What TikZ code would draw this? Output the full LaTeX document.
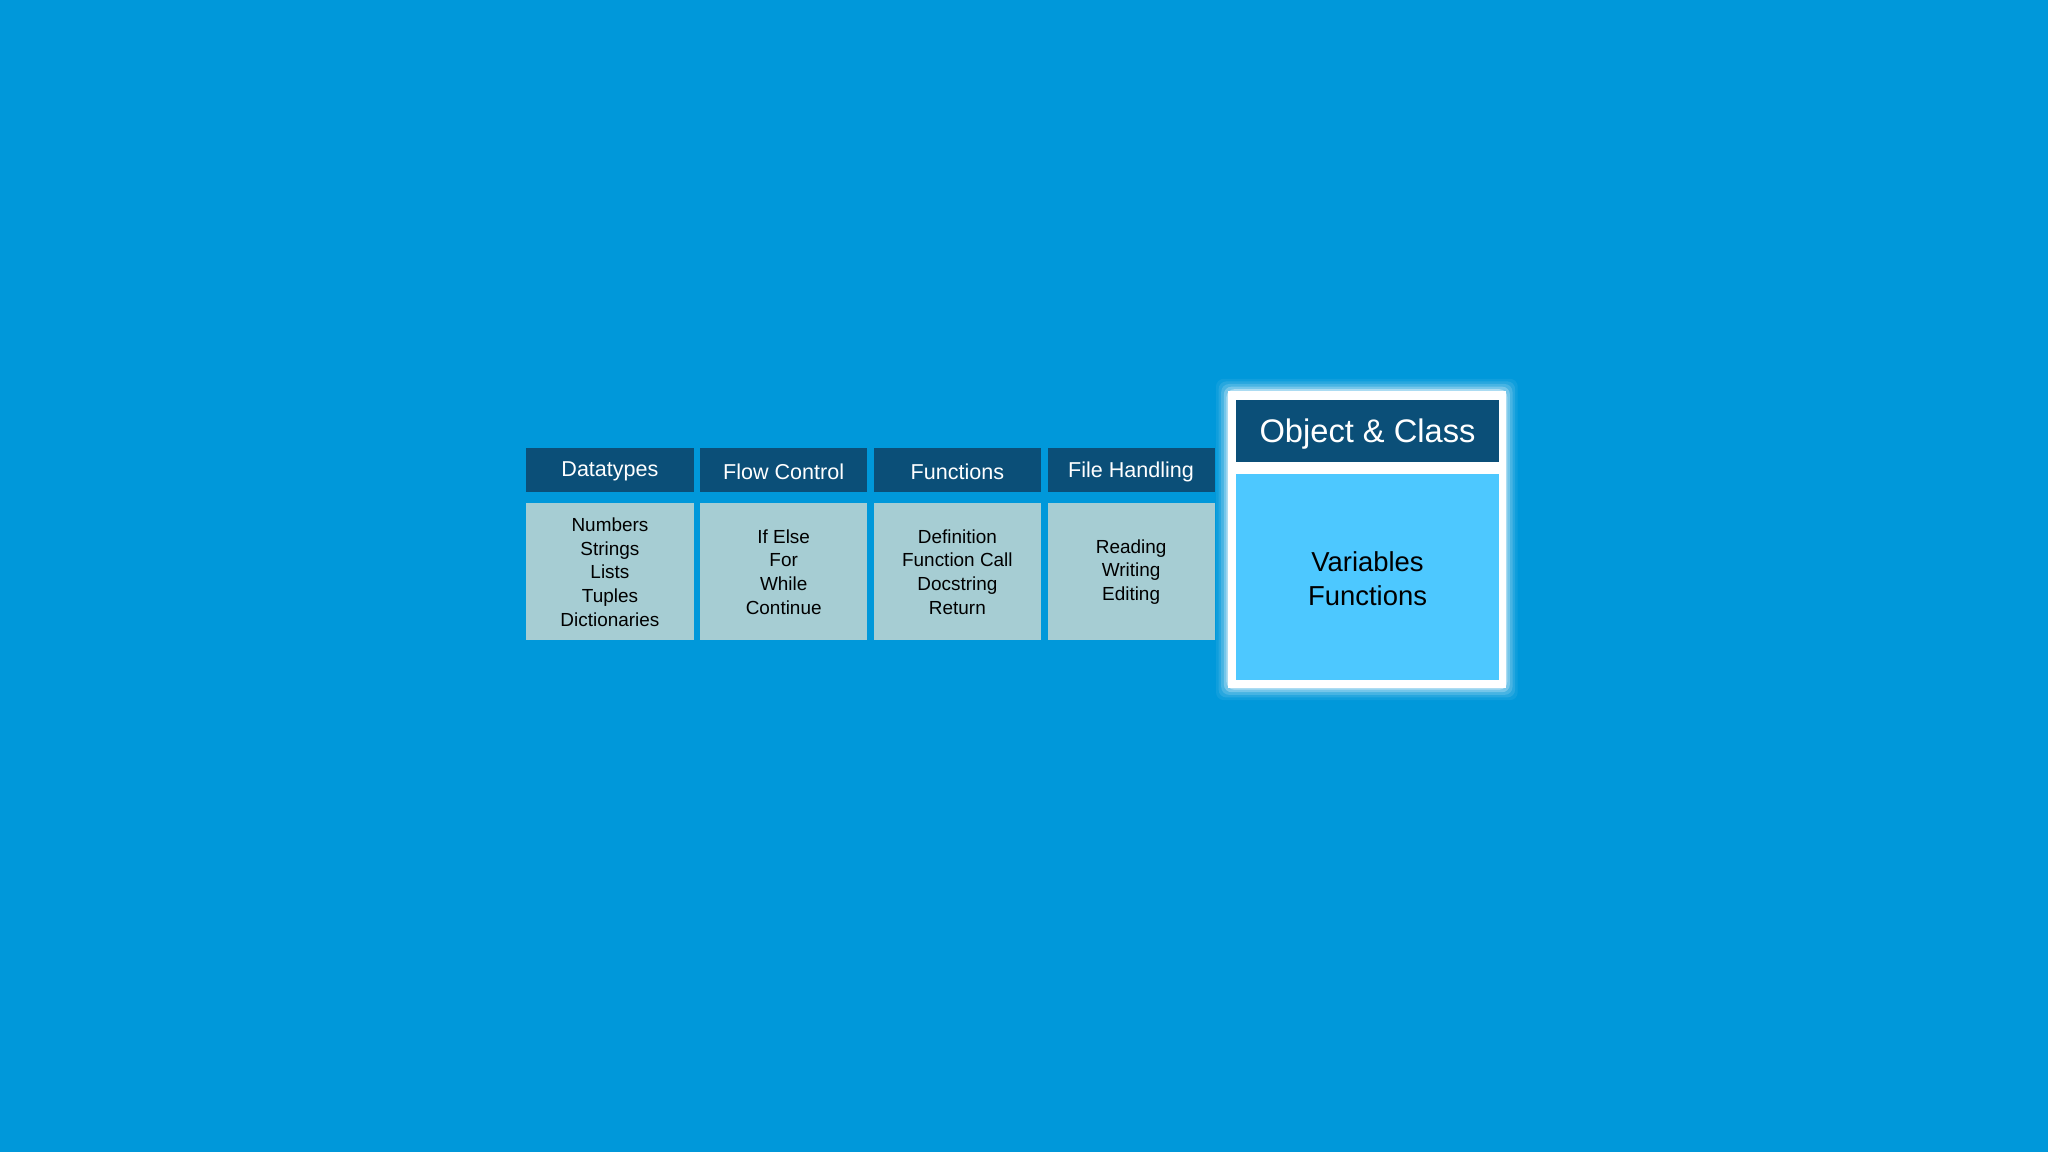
\documentclass[tikz,border=0pt]{standalone}
\usepackage{fontspec}
\setmainfont{Liberation Sans}
\definecolor{bg}{HTML}{0098DA}
\definecolor{hd}{HTML}{0B4F78}
\definecolor{bd}{HTML}{A6CDD3}
\definecolor{big}{HTML}{4DC8FF}
\begin{document}
\begin{tikzpicture}[x=1pt,y=-1pt,
  hdr/.style={fill=hd,text=white,font=\fontsize{16.5}{18}\selectfont},
  bdy/.style={fill=bd,text=black,font=\fontsize{14.5}{18.2}\selectfont,align=center}]
\fill[bg] (0,0) rectangle (1568,882);
\useasboundingbox (0,0) rectangle (1568,882);
\foreach \c/\t/\b [count=\i from 0] in {
  Datatypes/Datatypes/{Numbers\\Strings\\Lists\\Tuples\\Dictionaries},
  Flow Control/Flow Control/{If Else\\For\\While\\Continue},
  Functions/Functions/{Definition\\Function Call\\Docstring\\Return},
  File Handling/File Handling/{Reading\\Writing\\Editing}}{
  \pgfmathsetmacro{\xa}{403+133*\i}
  \pgfmathsetmacro{\xb}{\xa+128}
  \fill[hd] (\xa,343) rectangle (\xb,377);
  \node[text=white,font=\fontsize{16.5}{18}\selectfont] (h\i) at ({(\xa+\xb)/2},361) {\t};
  \fill[bd] (\xa,385) rectangle (\xb,490);
  \node[text=black,font=\fontsize{14.5}{18.2}\selectfont,align=center] (b\i) at ({(\xa+\xb)/2},438) {\b};
}
% glow
\foreach \k/\o in {9/0.06,7/0.1,5/0.15,3/0.25,1/0.4}{
  \fill[white,opacity=\o,rounded corners=6] (940-\k,299-\k) rectangle (1153+\k,527+\k);
}
\fill[white] (940,299) rectangle (1153,527);
\fill[hd] (946,306) rectangle (1148,354);
\node[text=white,font=\fontsize{25}{28}\selectfont] (oc) at (1047,332) {Object \& Class};
\fill[big] (946,363) rectangle (1148,521);
\node[text=black,font=\fontsize{21}{26}\selectfont,align=center] (ob) at (1047,443) {Variables\\Functions};
\end{tikzpicture}
\end{document}
